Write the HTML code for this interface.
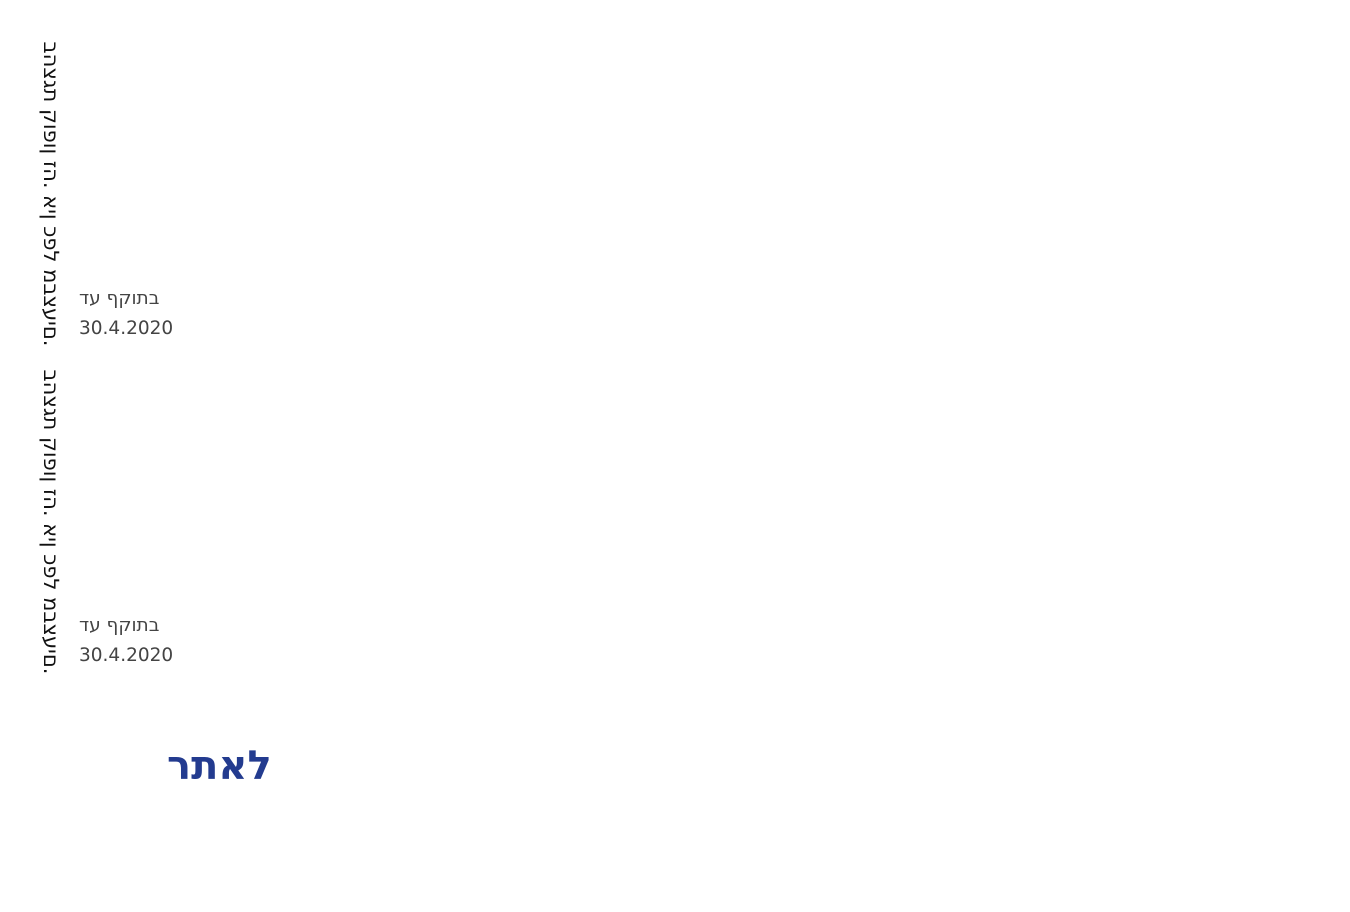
<!DOCTYPE html>
<html><head><meta charset="utf-8"><style>
body{margin:0;width:1350px;height:912px;background:#fff;position:relative;overflow:hidden;font-family:"DejaVu Sans","Liberation Sans",sans-serif;}
.o{unicode-bidi:bidi-override;direction:ltr;}
.v{position:absolute;width:340px;height:24px;line-height:24px;font-size:21px;color:#111;transform:rotate(90deg);transform-origin:center;text-align:center;white-space:nowrap;}
.s{position:absolute;left:79px;font-size:18.5px;color:#444;line-height:30px;white-space:nowrap;}
.b{position:absolute;left:167px;top:743px;font-size:40px;font-weight:bold;color:#233b8f;font-family:"DejaVu Sans",sans-serif;white-space:nowrap;}
</style></head><body>
<div class="v" style="left:-119px;top:182px"><span class="o">בהצגת קופון זה. אין כפל מבצעים.</span></div>
<div class="v" style="left:-119px;top:510px"><span class="o">בהצגת קופון זה. אין כפל מבצעים.</span></div>
<div class="s" style="top:284px">בתוקף עד<br>30.4.2020</div>
<div class="s" style="top:611px">בתוקף עד<br>30.4.2020</div>
<div class="b">לאתר</div>
</body></html>
